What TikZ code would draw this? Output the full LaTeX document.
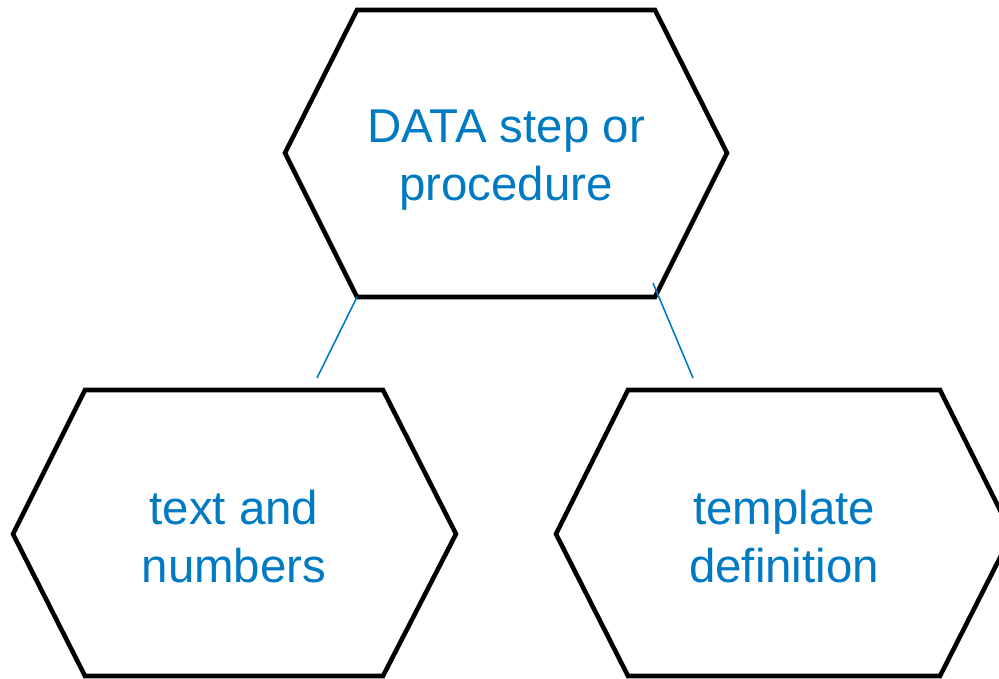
\documentclass[tikz,border=0pt]{standalone}
\usepackage{fontspec}
\setmainfont{Liberation Sans}
\usepackage{tikz}
\definecolor{sasblue}{RGB}{0,122,195}
\tikzset{
	hexline/.style={line width=1.3pt},
	hextext/.style={text=sasblue, align=center, font=\fontsize{13.5}{16.5}\selectfont},
	link/.style={draw=sasblue, line width=0.45pt}
}

\begin{document}
\begin{tikzpicture}
					\useasboundingbox (0,0) rectangle (9.99,6.79);
					\draw[hexline](3.57,6.69) -- (6.55,6.69) -- (7.27,5.26) -- (6.55,3.82) coordinate (dataBR) -- (3.57,3.82) coordinate (dataBL) -- (2.85,5.26) -- cycle;
					\draw[hexline](0.85,2.89) -- (3.83,2.89) -- (4.56,1.45) -- (3.83,0.03) -- (0.85,0.03) -- (0.13,1.45) -- cycle;
					\draw[hexline](6.28,2.89) -- (9.40,2.89) -- (10.12,1.45) -- (9.40,0.03) -- (6.28,0.03) -- (5.56,1.45) -- cycle;
					\node[hextext] (data) at (5.06,5.19) {DATA step or\\procedure};
					\node[hextext] (text) at (2.34,1.42) {text and\\numbers};
					\node[hextext] (tmpl) at (7.84,1.42) {template\\definition};
					\coordinate (dataR) at (6.53,3.96);
					\coordinate (textT) at (3.17,3.01);
					\coordinate (tmplT) at (6.93,3.01);
					\draw[link](dataBL) -- (textT);
					\draw[link](dataR) -- (tmplT);
\end{tikzpicture}
\end{document}
